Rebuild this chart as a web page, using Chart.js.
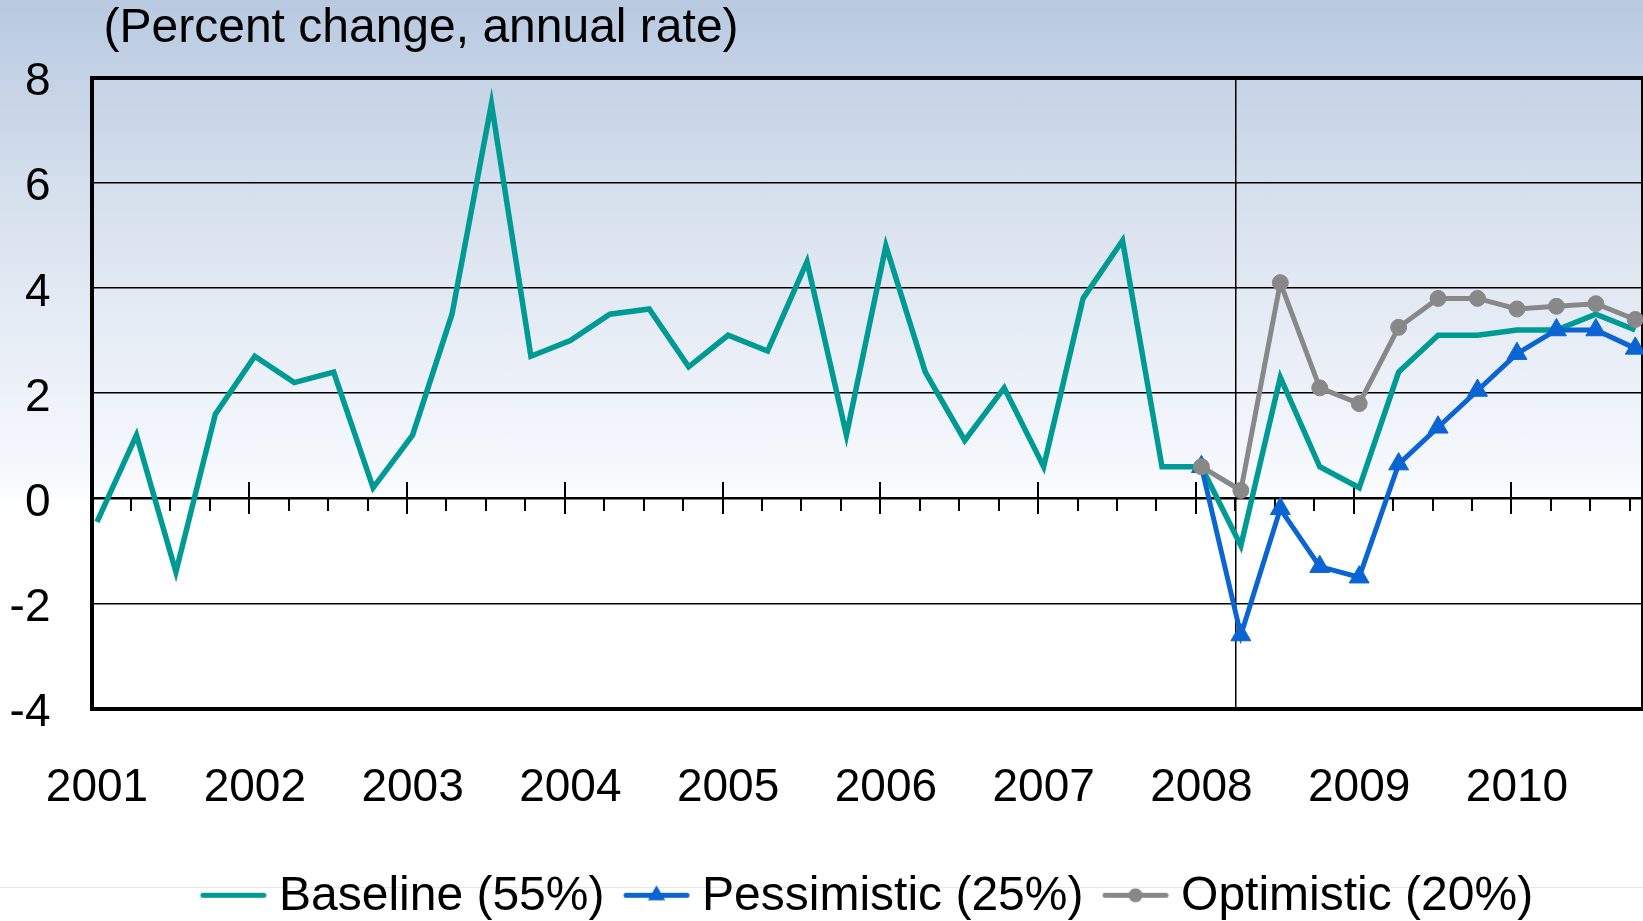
<!DOCTYPE html>
<html>
<head>
<meta charset="utf-8">
<script src="https://cdn.jsdelivr.net/npm/chart.js@4/dist/chart.umd.min.js"></script>
<style>
html,body{margin:0;padding:0;}
body{width:1643px;height:921px;overflow:hidden;position:relative;
background:linear-gradient(to bottom,#b8c9e0 0px,#c5d3e6 80px,#d4deec 180px,#e2e9f3 290px,#eef2f9 400px,#f7f9fd 480px,#fcfdfe 497px,#ffffff 503px,#ffffff 921px);}
#rule{position:absolute;left:0;top:887px;width:1643px;height:1px;background:#e8e8e8;}
canvas{position:absolute;left:0;top:0;}
</style>
</head>
<body>
<div id="rule"></div>
<canvas id="c" width="1643" height="921"></canvas>
<script>
// ---------------- data ----------------
const chartTitle = '(Percent change, annual rate)';
const yearLabels = ['2001','2002','2003','2004','2005','2006','2007','2008','2009','2010'];
const quarterNames = ['Q1','Q2','Q3','Q4'];
const quarters = [];
for (const y of yearLabels) for (const q of quarterNames) quarters.push(y + ' ' + q);

const seriesNames = ['Baseline (55%)', 'Pessimistic (25%)', 'Optimistic (20%)'];

// Baseline: 2001 Q1 .. 2010 Q4
const baseline = [
  -0.45, 1.2, -1.4, 1.6,
   2.7, 2.2, 2.4, 0.2,
   1.2, 3.5, 7.5, 2.7,
   3.0, 3.5, 3.6, 2.5,
   3.1, 2.8, 4.5, 1.2,
   4.8, 2.4, 1.1, 2.1,
   0.6, 3.8, 4.9, 0.6,
   0.6, -0.9, 2.3, 0.6,
   0.2, 2.4, 3.1, 3.1,
   3.2, 3.2, 3.5, 3.2
];
// Scenarios: 2008 Q1 .. 2010 Q4
const forecastQuarters = ['2008 Q1','2008 Q2','2008 Q3','2008 Q4',
                          '2009 Q1','2009 Q2','2009 Q3','2009 Q4',
                          '2010 Q1','2010 Q2','2010 Q3','2010 Q4'];
const pessimistic = [0.6, -2.6, -0.2, -1.3, -1.5, 0.65, 1.35, 2.05, 2.75, 3.2, 3.2, 2.85];
const optimistic  = [0.6, 0.15, 4.1, 2.1, 1.8, 3.25, 3.8, 3.8, 3.6, 3.65, 3.7, 3.4];

const yTickValues = [-4, -2, 0, 2, 4, 6, 8];
const forecastMarker = '2008 Q2';

// ---------------- style ----------------
const TEAL = '#009a94';
const BLUE = '#0a64d2';
const GRAY = '#888888';
const FONT = "'Liberation Sans', Arial, sans-serif";
const FS = 46;
const FS_BIG = 48;
const X_MIN = -0.14, X_MAX = 39.17;
const TICK_SHIFT = 0.14;

Chart.defaults.font.family = FONT;
Chart.defaults.font.size = FS;
Chart.defaults.color = '#000';

function legendImage(color, marker) {
  const c = document.createElement('canvas');
  c.width = 80; c.height = 28;
  const g = c.getContext('2d');
  const cy = 12.5, x0 = 15.2, x1 = 76.2, cx = (x0 + x1) / 2;
  g.strokeStyle = color; g.lineWidth = 5; g.lineCap = 'round';
  g.beginPath(); g.moveTo(x0, cy); g.lineTo(x1, cy); g.stroke();
  g.fillStyle = color;
  if (marker === 'triangle') {
    const r = 10;
    g.beginPath();
    g.moveTo(cx, cy - r);
    g.lineTo(cx + r * Math.sin(2*Math.PI/3), cy - r * Math.cos(2*Math.PI/3));
    g.lineTo(cx - r * Math.sin(2*Math.PI/3), cy - r * Math.cos(2*Math.PI/3));
    g.closePath(); g.fill();
  } else if (marker === 'circle') {
    g.beginPath(); g.arc(cx, cy, 7, 0, Math.PI*2); g.fill();
  }
  return c;
}
const legendImages = [legendImage(TEAL, null), legendImage(BLUE, 'triangle'), legendImage(GRAY, 'circle')];

const idx = q => quarters.indexOf(q);
const tickQuarterVals = quarters.map((q, i) => i - TICK_SHIFT).filter(v => v >= X_MIN - 1e-9 && v <= X_MAX);
const tickYearVals = yearLabels.map(y => idx(y + ' Q1') - TICK_SHIFT);

const hiddenGrid = {display: true, drawOnChartArea: false, drawTicks: false, color: 'rgba(0,0,0,0)'};

const titleShift = {
  id: 'titleShift',
  afterLayout(chart) {
    const t = chart.titleBlock;
    if (t) { const dx = chart.chartArea.left + 12 - t.left; t.left += dx; t.right += dx; }
  }
};

new Chart(document.getElementById('c'), {
  type: 'line',
  data: {
    datasets: [
      {
        label: seriesNames[0],
        data: quarters.map((q, i) => ({x: i, y: baseline[i]})),
        borderColor: TEAL, backgroundColor: TEAL, borderWidth: 5.5,
        pointRadius: 0, tension: 0, fill: false, order: 3, clip: 12
      },
      {
        label: seriesNames[1],
        data: forecastQuarters.map((q, i) => ({x: idx(q), y: pessimistic[i]})),
        borderColor: BLUE, backgroundColor: BLUE, borderWidth: 5,
        pointStyle: 'triangle', pointRadius: 11.5, pointBackgroundColor: BLUE,
        pointBorderColor: BLUE, pointBorderWidth: 1, tension: 0, fill: false, order: 2, clip: 12
      },
      {
        label: seriesNames[2],
        data: forecastQuarters.map((q, i) => ({x: idx(q), y: optimistic[i]})),
        borderColor: GRAY, backgroundColor: GRAY, borderWidth: 5,
        pointStyle: 'circle', pointRadius: 8, pointBackgroundColor: GRAY,
        pointBorderColor: GRAY, pointBorderWidth: 1, tension: 0, fill: false, order: 1, clip: 12
      }
    ]
  },
  options: {
    responsive: false,
    animation: false,
    devicePixelRatio: 1,
    events: [],
    layout: {autoPadding: false, padding: {top: 0, right: 1, bottom: -9.8, left: 0}},
    scales: {
      x: {
        type: 'linear', position: 'bottom', min: X_MIN, max: X_MAX,
        afterBuildTicks: s => { s.ticks = yearLabels.map(y => ({value: idx(y + ' Q1')})); },
        afterFit: s => { s.height = 145.1; s.paddingLeft = 0; s.paddingRight = 0; },
        ticks: {autoSkip: false, maxRotation: 0, padding: 52, font: {size: FS}, color: '#000',
                callback: (v, i) => yearLabels[i]},
        grid: hiddenGrid,
        border: {display: true, color: '#000', width: 4}
      },
      xTop: {
        type: 'linear', axis: 'x', position: 'top', min: X_MIN, max: X_MAX,
        ticks: {display: false}, grid: hiddenGrid,
        border: {display: true, color: '#000', width: 4}
      },
      xTick: {
        type: 'linear', axis: 'x', position: {y: 0}, min: X_MIN, max: X_MAX,
        afterBuildTicks: s => { s.ticks = tickQuarterVals.map(v => ({value: v})); },
        ticks: {display: false},
        grid: {display: true, drawOnChartArea: false, drawTicks: true, tickLength: 12,
               tickWidth: 2, tickColor: '#000', color: '#000', lineWidth: 2},
        border: {display: true, color: '#000', width: 2}
      },
      xMajDown: {
        type: 'linear', axis: 'x', position: {y: 0}, min: X_MIN, max: X_MAX,
        afterBuildTicks: s => { s.ticks = tickYearVals.map(v => ({value: v})); },
        ticks: {display: false},
        grid: {display: true, drawOnChartArea: false, drawTicks: true, tickLength: 16,
               tickWidth: 2, tickColor: '#000', color: '#000', lineWidth: 2},
        border: {display: false}
      },
      xMajUp: {
        type: 'linear', axis: 'x', position: {y: 0}, min: X_MIN, max: X_MAX,
        afterBuildTicks: s => { s.ticks = tickYearVals.map(v => ({value: v})); },
        ticks: {display: false},
        grid: {display: true, drawOnChartArea: false, drawTicks: true, tickLength: -16,
               tickWidth: 2, tickColor: '#000', color: '#000', lineWidth: 2},
        border: {display: false}
      },
      xV: {
        type: 'linear', axis: 'x', position: {y: 0}, min: X_MIN, max: X_MAX,
        afterBuildTicks: s => { s.ticks = [{value: idx(forecastMarker) - TICK_SHIFT}]; },
        ticks: {display: false},
        grid: {display: true, drawOnChartArea: true, drawTicks: false, color: '#000', lineWidth: 1.5},
        border: {display: false}
      },
      y: {
        type: 'linear', position: 'left', min: -4, max: 8,
        afterBuildTicks: s => { s.ticks = yTickValues.map(v => ({value: v})); },
        afterFit: s => { s.width = 91.5; },
        ticks: {padding: 41, labelOffset: 5, font: {size: FS}, color: '#000', callback: v => String(v)},
        grid: {color: '#000', lineWidth: 1.5, drawTicks: false},
        border: {display: true, color: '#000', width: 4}
      },
      yRight: {
        type: 'linear', axis: 'y', position: 'right', min: -4, max: 8,
        ticks: {display: false}, grid: hiddenGrid,
        border: {display: true, color: '#000', width: 2}
      }
    },
    plugins: {
      tooltip: {enabled: false},
      title: {
        display: true, text: chartTitle, align: 'start', fullSize: true,
        color: '#000', font: {size: FS_BIG, weight: 'normal'},
        padding: {top: 0, bottom: 19.9}
      },
      legend: {
        display: true, position: 'bottom', fullSize: false, align: 'center',
        labels: {
          usePointStyle: true, pointStyleWidth: 54.6, padding: 19,
          color: '#000', font: {size: FS_BIG},
          generateLabels: chart => chart.data.datasets.map((d, i) => ({
            text: d.label, pointStyle: legendImages[i], fillStyle: d.borderColor,
            strokeStyle: d.borderColor, lineWidth: 0, hidden: false, datasetIndex: i, fontColor: '#000'
          }))
        }
      }
    }
  },
  plugins: [titleShift]
});
</script>
</body>
</html>
